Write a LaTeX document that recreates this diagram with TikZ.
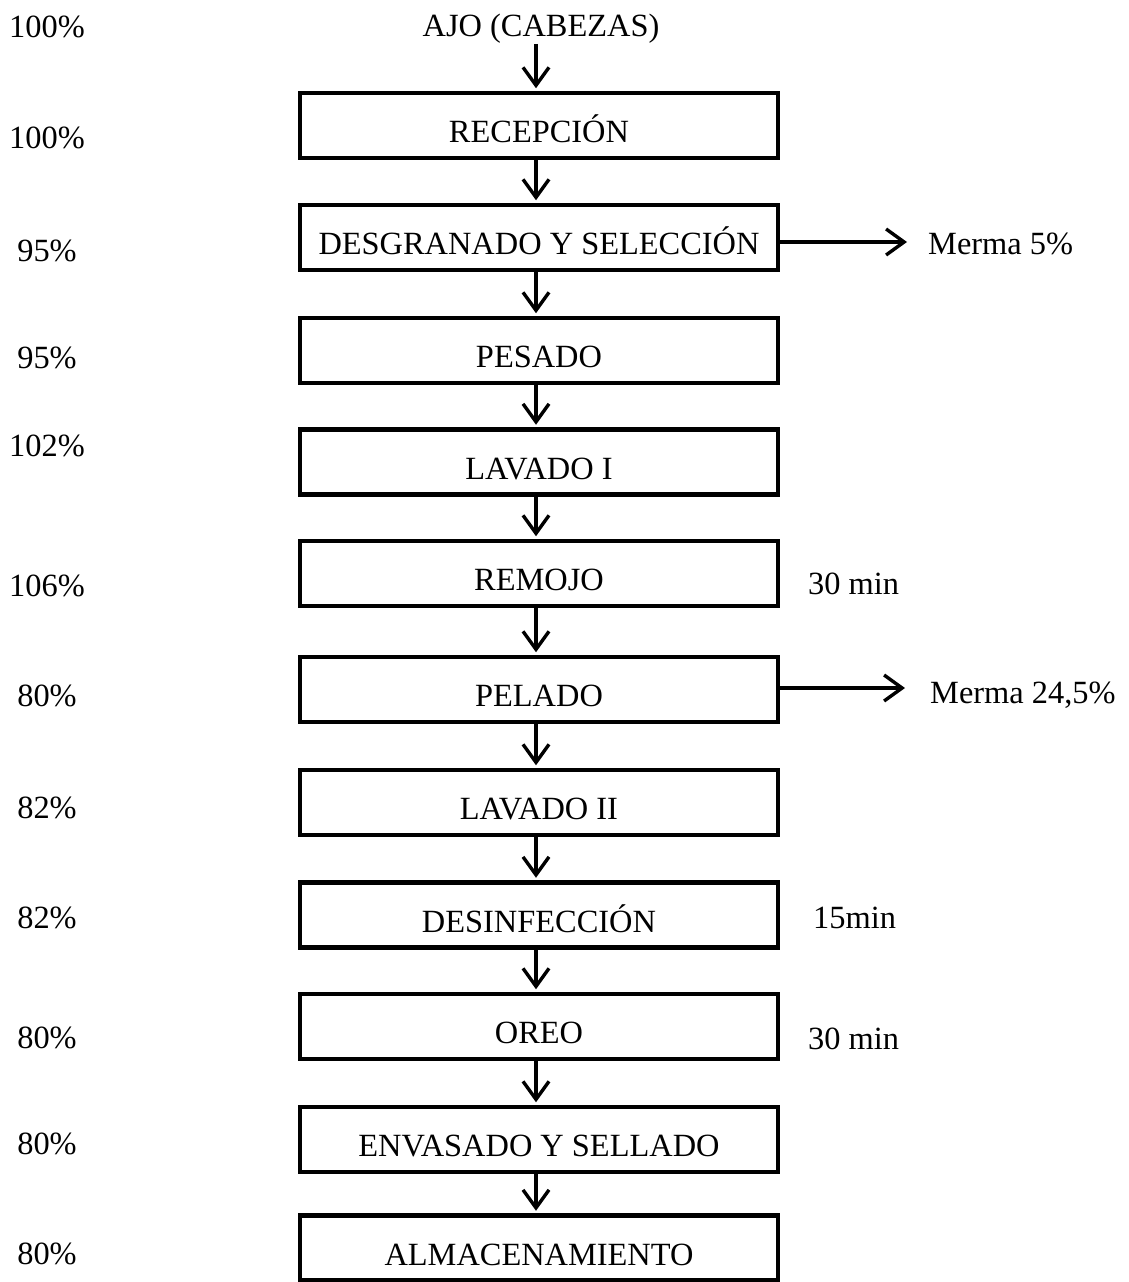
\documentclass[tikz,border=0pt]{standalone}
\usepackage{fontspec}
\setmainfont{Liberation Serif}
\usetikzlibrary{arrows.meta}
\begin{document}
\begin{tikzpicture}[x=1pt,y=-1pt,
  every node/.style={inner sep=0pt, font=\fontsize{32.4}{38}\selectfont},
  stepbox/.style={draw, line width=4.5pt, minimum width=478pt, minimum height=65pt,
                  text height=34pt, text depth=0pt},
  flow/.style={line width=3.4pt, -{Straight Barb[length=18pt,width=26pt]}, shorten >=2.5pt},
  pct/.style={anchor=base},
  note/.style={anchor=base west}]
\useasboundingbox (0,0) rectangle (1129,1282);

% input
\node (ajo) at (541,29) {AJO (CABEZAS)};

% process steps
\node[stepbox] (rec)  at (539,125.5)  {RECEPCIÓN};
\node[stepbox] (desg) at (539,237.5)  {DESGRANADO Y SELECCIÓN};
\node[stepbox] (pes)  at (539,350.5)  {PESADO};
\node[stepbox] (lav1) at (539,462)    {LAVADO I};
\node[stepbox] (rem)  at (539,573.5)  {REMOJO};
\node[stepbox] (pel)  at (539,689.5)  {PELADO};
\node[stepbox] (lav2) at (539,802.5)  {LAVADO II};
\node[stepbox] (des)  at (539,915)    {DESINFECCIÓN};
\node[stepbox] (oreo) at (539,1026.5) {OREO};
\node[stepbox] (env)  at (539,1139.5) {ENVASADO Y SELLADO};
\node[stepbox] (alm)  at (539,1248)   {ALMACENAMIENTO};

% main flow
\foreach \a/\b in {ajo/rec,rec/desg,desg/pes,pes/lav1,lav1/rem,rem/pel,pel/lav2,lav2/des,des/oreo,oreo/env,env/alm}
  \draw[flow] ([xshift=-3pt]\b.north |- \a.south) -- ([xshift=-3pt]\b.north);

% yields
\node[pct] (p0)  at (47,37)   {100\%};
\node[pct] (p1)  at (47,148)  {100\%};
\node[pct] (p2)  at (47,261)  {95\%};
\node[pct] (p3)  at (47,368)  {95\%};
\node[pct] (p4)  at (47,456)  {102\%};
\node[pct] (p5)  at (47,596)  {106\%};
\node[pct] (p6)  at (47,706)  {80\%};
\node[pct] (p7)  at (47,818)  {82\%};
\node[pct] (p8)  at (47,928)  {82\%};
\node[pct] (p9)  at (47,1048) {80\%};
\node[pct] (p10) at (47,1154) {80\%};
\node[pct] (p11) at (47,1264) {80\%};

% losses
\coordinate (m1) at (907,242);
\coordinate (m2) at (905,688);
\draw[flow, shorten >=0pt] (desg.east |- m1) -- (m1);
\draw[flow, shorten >=0pt] (pel.east |- m2) -- (m2);
\node[note] (merma1) at (928,254) {Merma 5\%};
\node[note] (merma2) at (930,703) {Merma 24,5\%};

% times
\node[note] (t1) at (808,594)  {30 min};
\node[note] (t2) at (813,928)  {15min};
\node[note] (t3) at (808,1049) {30 min};
\end{tikzpicture}
\end{document}
